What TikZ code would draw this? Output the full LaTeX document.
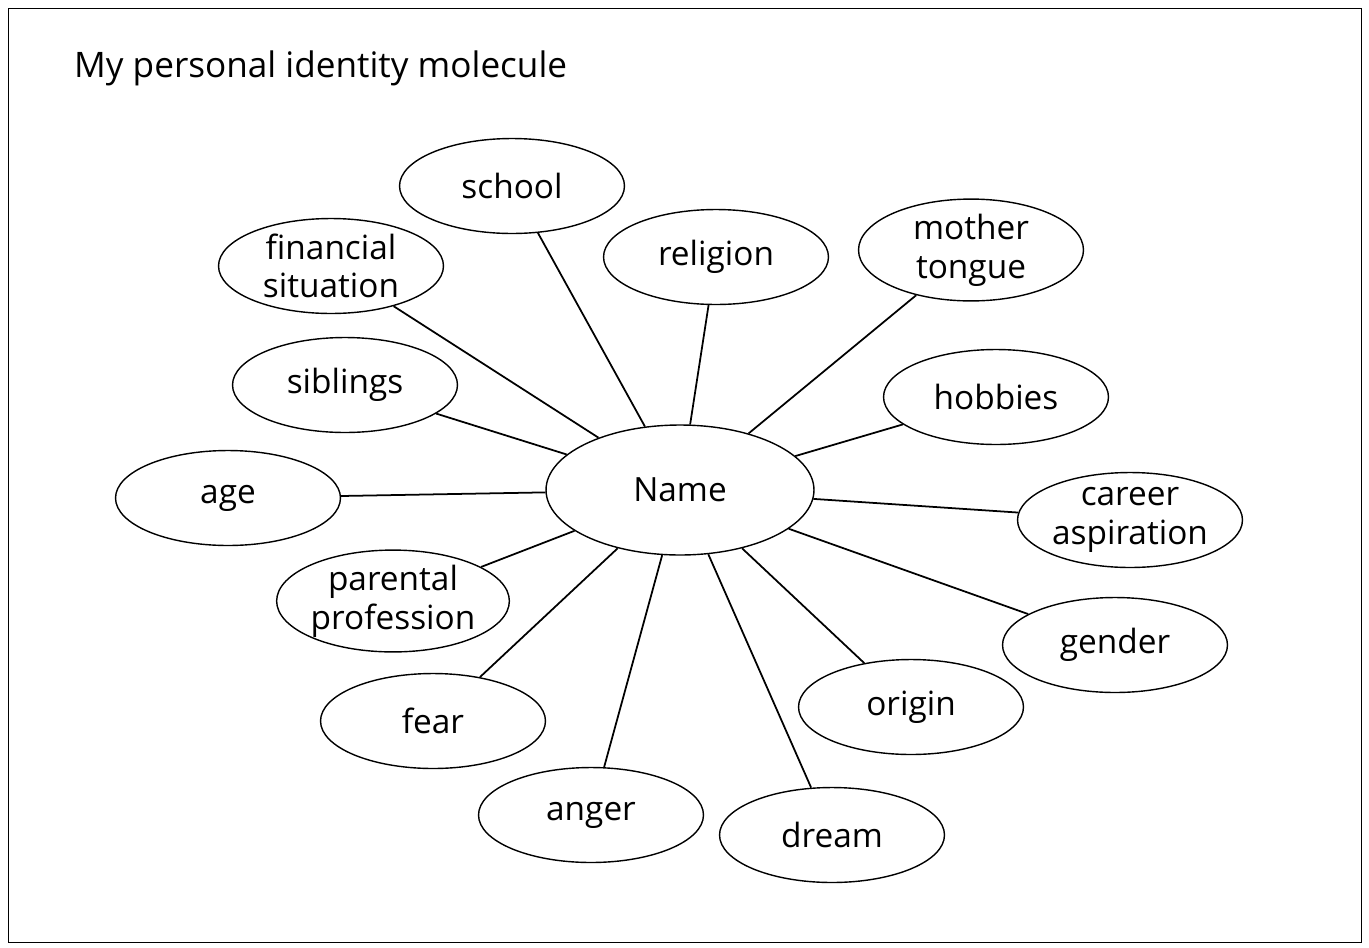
\documentclass[tikz,border=0pt]{standalone}
\usepackage{fontspec}
\setmainfont{Open Sans}
\usetikzlibrary{shapes.geometric, positioning}

\tikzset{
  idbubble/.style={draw, ellipse, thick, minimum width=4.5cm, minimum height=1.9cm,
    inner sep=0pt, align=center, font=\fontsize{19}{22}\selectfont},
  bond/.style={line width=1pt}
}

\begin{document}
\begin{tikzpicture}[x=0.02cm, y=-0.02cm]
\useasboundingbox (0,0) rectangle (1369,947);
\draw (8,8) rectangle (1361,942);
\node[anchor=west, font=\fontsize{20}{22}\selectfont] (title) at (68,68) {My personal identity molecule};

% centre
\node[idbubble, minimum width=5.36cm, minimum height=2.6cm] (name) at (680,490) {Name};

% surrounding bubbles
\node[idbubble] (school) at (512,186) {school};
\node[idbubble] (finance) at (331,266) {financial\\situation};
\node[idbubble] (religion) at (716,257) {religion};
\node[idbubble] (tongue) at (971,250) {mother\\tongue};
\node[idbubble] (siblings) at (345,385) {siblings};
\node[idbubble] (hobbies) at (996,397) {hobbies};
\node[idbubble] (age) at (228,498) {age};
\node[idbubble] (career) at (1130,520) {career\\aspiration};
\node[idbubble] (parents) at (393,601) {parental\\profession};
\node[idbubble] (gender) at (1115,645) {gender};
\node[idbubble] (fear) at (433,721) {fear};
\node[idbubble] (origin) at (911,707) {origin};
\node[idbubble] (anger) at (591,815) {anger};
\node[idbubble] (dream) at (832,835) {dream};

% bonds
\foreach \n in {school,finance,religion,tongue,siblings,hobbies,age,career,parents,gender,fear,origin,anger,dream}
  \draw[bond] (name) -- (\n);
\end{tikzpicture}
\end{document}
